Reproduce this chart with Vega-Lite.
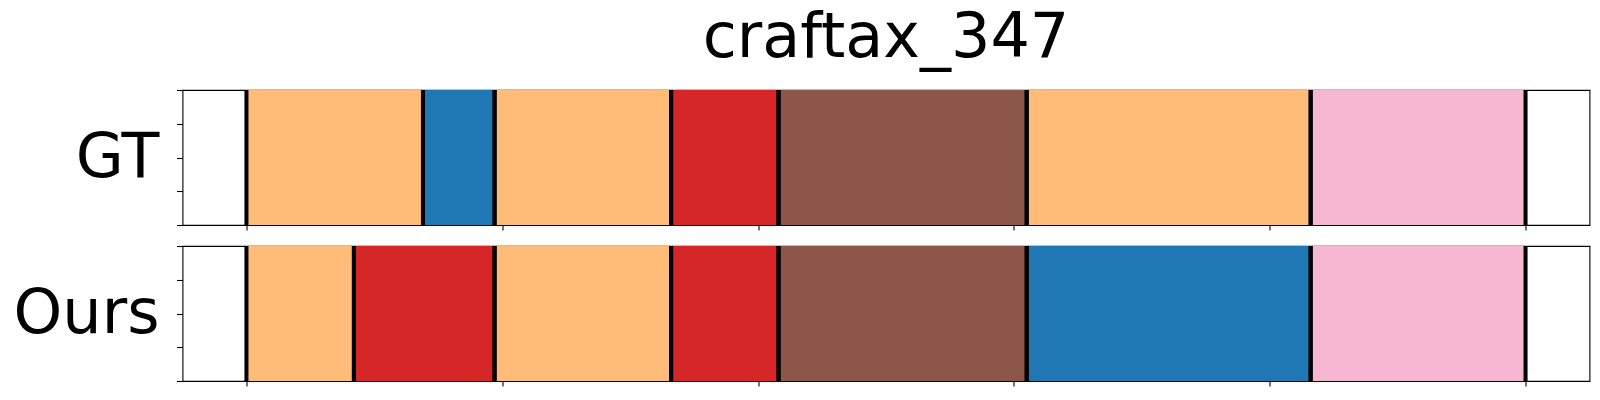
{
  "$schema": "https://vega.github.io/schema/vega-lite/v6.json",
  "background": "white",
  "padding": {"left": 12.5, "top": 6, "right": 5, "bottom": 5},
  "config": {
    "font": "DejaVu Sans",
    "view": {"stroke": "black", "strokeWidth": 1.1},
    "axis": {"grid": false, "labels": false, "domain": false, "tickColor": "black", "tickWidth": 1.1}
  },
  "datasets": {
    "gt": [
      {"start": 0, "end": 69, "cls": "orange"},
      {"start": 69, "end": 97, "cls": "blue"},
      {"start": 97, "end": 166, "cls": "orange"},
      {"start": 166, "end": 208, "cls": "red"},
      {"start": 208, "end": 305, "cls": "brown"},
      {"start": 305, "end": 416, "cls": "orange"},
      {"start": 416, "end": 500, "cls": "pink"}
    ],
    "ours": [
      {"start": 0, "end": 42, "cls": "orange"},
      {"start": 42, "end": 97, "cls": "red"},
      {"start": 97, "end": 166, "cls": "orange"},
      {"start": 166, "end": 208, "cls": "red"},
      {"start": 208, "end": 305, "cls": "brown"},
      {"start": 305, "end": 416, "cls": "blue"},
      {"start": 416, "end": 500, "cls": "pink"}
    ]
  },
  "vconcat": [
    {
      "title": {"text": "craftax_347", "fontSize": 62, "fontWeight": "normal", "anchor": "middle", "baseline": "bottom", "offset": -44, "color": "black"},
      "width": 1407,
      "height": 135,
      "data": {"name": "gt"},
      "encoding": {
        "x": {"field": "start", "type": "quantitative", "scale": {"domain": [-25, 525], "nice": false, "zero": false}, "axis": {"values": [0, 100, 200, 300, 400, 500], "tickSize": 5, "title": null}}
      },
      "layer": [
        {
          "mark": {"type": "rect"},
          "encoding": {
            "x2": {"field": "end"},
            "y": {"datum": 0, "type": "quantitative", "scale": {"domain": [0, 1], "nice": false}, "axis": {"values": [0, 0.25, 0.5, 0.75, 1], "tickSize": 6, "title": "GT", "titleAngle": 0, "titleFontSize": 62, "titleFontWeight": "normal", "titleAlign": "right", "titleBaseline": "middle", "titlePadding": 17, "titleColor": "black"}},
            "y2": {"datum": 1},
            "color": {"field": "cls", "type": "nominal", "scale": {"domain": ["orange", "blue", "red", "brown", "pink"], "range": ["#ffbb78", "#1f77b4", "#d62728", "#8c564b", "#f7b6d2"]}, "legend": null}
          }
        },
        {"mark": {"type": "rule", "color": "black", "strokeWidth": 4}, "encoding": {}},
        {"mark": {"type": "rule", "color": "black", "strokeWidth": 4}, "encoding": {"x": {"field": "end", "type": "quantitative"}}}
      ]
    },
    {
      "width": 1407,
      "height": 135,
      "data": {"name": "ours"},
      "encoding": {
        "x": {"field": "start", "type": "quantitative", "scale": {"domain": [-25, 525], "nice": false, "zero": false}, "axis": {"values": [0, 100, 200, 300, 400, 500], "tickSize": 5, "title": null}}
      },
      "layer": [
        {
          "mark": {"type": "rect"},
          "encoding": {
            "x2": {"field": "end"},
            "y": {"datum": 0, "type": "quantitative", "scale": {"domain": [0, 1], "nice": false}, "axis": {"values": [0, 0.25, 0.5, 0.75, 1], "tickSize": 6, "title": "Ours", "titleAngle": 0, "titleFontSize": 62, "titleFontWeight": "normal", "titleAlign": "right", "titleBaseline": "middle", "titlePadding": 17, "titleColor": "black"}},
            "y2": {"datum": 1},
            "color": {"field": "cls", "type": "nominal", "scale": {"domain": ["orange", "blue", "red", "brown", "pink"], "range": ["#ffbb78", "#1f77b4", "#d62728", "#8c564b", "#f7b6d2"]}, "legend": null}
          }
        },
        {"mark": {"type": "rule", "color": "black", "strokeWidth": 4}, "encoding": {}},
        {"mark": {"type": "rule", "color": "black", "strokeWidth": 4}, "encoding": {"x": {"field": "end", "type": "quantitative"}}}
      ]
    }
  ],
  "spacing": 11
}
